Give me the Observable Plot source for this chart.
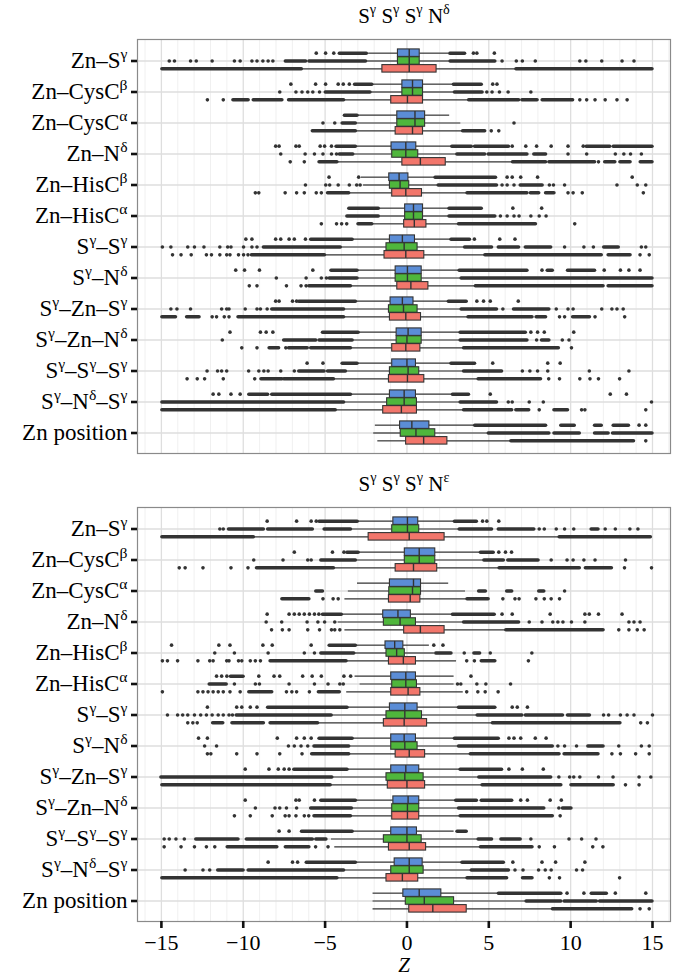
<!DOCTYPE html>
<html><head><meta charset="utf-8">
<script src="https://cdn.jsdelivr.net/npm/d3@7"></script>
<script src="https://cdn.jsdelivr.net/npm/@observablehq/plot@0.6"></script>
<style>body{margin:0;background:#fff}#chart svg{display:block}</style>
</head><body><div id="chart"></div>
<script>
// ---------- DATA ----------
const categories = ["Zn–S^γ","Zn–CysC^β","Zn–CysC^α","Zn–N^δ","Zn–HisC^β","Zn–HisC^α","S^γ–S^γ","S^γ–N^δ","S^γ–Zn–S^γ","S^γ–Zn–N^δ","S^γ–S^γ–S^γ","S^γ–N^δ–S^γ","Zn position"];
const panels = ["S^γ S^γ S^γ N^δ", "S^γ S^γ S^γ N^ε"];
const seriesKeys = ["blue", "green", "red"];
const seriesColors = ["#5b8dd6", "#4fb63c", "#f2766b"];
const xTicks = [-15, -10, -5, 0, 5, 10, 15];
const xLabel = "Z";

// box statistics per category: [lower whisker, q1, median, q3, upper whisker]
const topBlue = [[-2.34,-0.55,0.14,0.78,2.55],[-2.07,-0.28,0.34,0.98,2.82],[-2.96,-0.59,0.49,1.11,2.61],[-3.07,-0.94,-0.07,0.57,2.72],[-2.78,-1.08,-0.48,0.09,1.68],[-1.66,-0.11,0.40,0.98,2.55],[-3.27,-1.04,-0.28,0.49,2.67],[-2.96,-0.69,0.03,0.90,3.17],[-3.07,-1.00,-0.28,0.40,2.51],[-2.90,-0.63,0.07,0.90,3.23],[-2.96,-0.90,0.00,0.55,2.67],[-3.37,-1.04,-0.17,0.55,2.76],[-1.93,-0.42,0.30,1.37,4.12]];
const topGreen = [[-2.45,-0.55,0.14,0.78,2.62],[-2.18,-0.28,0.34,0.98,2.88],[-3.07,-0.59,0.49,1.11,3.29],[-3.23,-0.90,-0.07,0.69,3.03],[-2.65,-1.04,-0.42,0.14,1.89],[-1.66,-0.11,0.40,0.98,2.55],[-3.99,-1.25,-0.17,0.65,3.50],[-2.96,-0.69,0.03,0.90,3.29],[-3.79,-1.10,-0.21,0.65,3.29],[-3.27,-0.63,0.00,0.90,3.23],[-3.68,-1.04,0.07,0.75,3.44],[-3.79,-1.21,-0.17,0.61,3.23],[-2.03,-0.38,0.55,1.73,4.95]];
const topRed = [[-6.37,-1.50,0.14,1.81,6.64],[-3.79,-0.96,0.03,0.98,3.75],[-3.07,-0.69,0.34,0.98,3.38],[-4.20,-0.28,0.82,2.37,6.43],[-3.48,-0.90,-0.07,0.92,3.65],[-2.07,-0.17,0.45,1.19,3.13],[-4.96,-1.37,-0.07,1.06,4.74],[-3.37,-0.59,0.24,1.31,4.16],[-3.79,-1.04,-0.07,0.86,3.71],[-3.37,-0.90,-0.07,0.82,3.44],[-4.41,-1.10,0.03,1.06,4.33],[-4.30,-1.45,-0.34,0.61,3.44],[-1.78,-0.05,1.02,2.47,6.33]];
const botBlue = [[-2.96,-0.83,0.03,0.69,2.88],[-2.90,-0.13,0.75,1.73,4.47],[-3.02,-1.04,0.40,0.86,2.55],[-3.93,-1.45,-0.55,0.24,2.76],[-3.07,-1.31,-0.75,-0.22,1.37],[-3.17,-0.96,-0.07,0.55,2.88],[-3.58,-1.04,-0.13,0.65,3.13],[-3.27,-0.96,-0.17,0.55,2.88],[-3.58,-0.96,-0.07,0.75,3.23],[-3.07,-0.83,0.07,0.75,2.96],[-3.27,-0.96,0.00,0.61,2.88],[-3.07,-0.75,0.14,0.96,3.34],[-2.07,-0.22,0.75,2.10,5.57]];
const botGreen = [[-3.37,-0.90,0.03,0.75,3.17],[-3.07,-0.13,0.75,1.73,4.68],[-3.58,-1.08,0.34,0.86,3.58],[-4.20,-1.41,-0.42,0.55,3.44],[-3.17,-1.25,-0.63,-0.13,1.68],[-2.86,-0.90,-0.07,0.61,2.88],[-4.55,-1.25,-0.13,0.92,4.27],[-3.48,-0.96,-0.13,0.65,3.13],[-4.51,-1.25,-0.13,1.02,4.37],[-3.31,-0.90,0.03,0.75,3.13],[-4.61,-1.41,0.00,0.90,4.33],[-3.79,-0.96,0.14,1.02,3.91],[-2.07,-0.07,1.06,2.88,7.26]];
const botRed = [[-9.30,-2.34,0.14,2.30,9.28],[-4.41,-0.69,0.40,1.85,5.61],[-3.79,-1.10,0.20,0.82,3.65],[-3.79,-0.17,0.82,2.30,6.02],[-3.64,-1.10,-0.22,0.55,3.03],[-3.68,-0.96,0.07,0.82,3.44],[-5.38,-1.41,-0.17,1.23,5.20],[-3.48,-0.69,0.14,1.11,3.85],[-4.61,-1.17,0.00,1.11,4.57],[-3.37,-0.90,0.03,0.75,3.23],[-4.41,-1.10,0.14,1.17,4.47],[-4.20,-1.25,-0.28,0.69,3.65],[-2.07,0.14,1.58,3.65,8.87]];

// dense stretches of outliers: [from, to]
const topBlueRuns = [[[-4.1,-2.45],[2.65,3.55]],[[-3.17,-2.12],[2.87,4.57]],[[-3.79,-3.02]],[[-4.3,-3.12],[2.77,3.96],[4.16,6.23],[10.98,12.42],[12.63,15.0]],[[1.75,5.44]],[[-3.52,-1.72],[2.6,4.57]],[[-5.85,-3.32],[2.72,3.85]],[[-4.61,-3.02],[3.22,7.36],[8.6,8.91],[9.84,11.49]],[[-6.58,-3.12],[2.56,3.65]],[[-5.13,-2.95],[3.28,7.26]],[[-3.93,-3.02],[2.72,4.16]],[[-9.63,-8.48],[-8.23,-3.42],[2.81,3.79]],[[4.17,8.5],[9.43,10.25],[11.49,11.9],[12.63,13.56]]];
const topGreenRuns = [[[-7.4,-6.16],[-5.96,-2.5],[2.67,5.4]],[[-4.96,-2.23],[2.93,4.62]],[[-3.93,-3.12]],[[-4.1,-3.28],[3.08,4.78],[4.99,7.36],[7.78,8.5]],[[1.94,5.5],[6.95,8.29]],[[-3.64,-1.72],[2.6,5.4]],[[-8.74,-4.04],[3.55,5.2],[5.61,6.85],[7.26,8.81],[12.05,12.94]],[[-4.72,-3.02],[3.34,15.0]],[[-8.23,-3.84],[3.34,5.5],[6.54,8.7]],[[-7.5,-5.54],[-5.34,-3.32],[3.28,7.36],[8.25,8.7]],[[-6.58,-5.03],[-4.82,-3.73],[3.49,5.81]],[[-14.94,-3.84],[3.28,5.5]],[[5.0,8.7],[9.01,10.56],[11.49,12.32],[12.59,15.0]]];
const topRedRuns = [[[-14.94,-6.42],[6.69,15.0]],[[-10.6,-9.67],[-9.36,-7.61],[-7.2,-3.84],[3.8,6.85],[7.05,7.98],[8.29,10.15]],[[-5.75,-3.12],[3.43,4.78]],[[-5.34,-4.25],[6.48,8.5],[8.7,11.49],[12.11,12.73],[13.04,13.66],[14.28,15.0]],[[-4.82,-3.53],[3.7,7.36],[7.57,8.08],[8.5,9.01]],[[-2.96,-2.12],[3.18,7.88]],[[-9.47,-5.01],[4.79,11.9],[12.32,13.66]],[[-5.96,-3.42],[4.21,12.01],[12.32,15.0]],[[-14.94,-14.11],[-13.43,-12.67],[-10.29,-3.84],[3.76,7.67],[7.92,8.5],[10.15,11.18]],[[-8.39,-7.81],[-7.2,-6.06],[-5.85,-3.42],[3.49,9.28]],[[-8.89,-7.61],[-7.5,-4.46],[4.38,8.19]],[[-14.94,-4.35],[3.49,6.43],[6.68,7.47],[9.01,9.84]],[[6.38,13.87]]];
const botBlueRuns = [[[-5.34,-3.01],[2.93,4.27]],[[-3.64,-2.95],[4.52,5.3]],[],[[-5.13,-3.98],[2.81,5.36]],[[-4.72,-3.12]],[[-10.75,-9.98]],[[-8.48,-3.63],[3.18,5.4]],[[-5.34,-3.32],[2.93,5.61]],[[-6.88,-3.63],[3.28,5.81]],[[-5.23,-3.12],[3.01,4.27],[4.57,6.43]],[[-6.41,-3.32],[3.09,3.65]],[[-6.12,-3.12],[3.39,5.92]],[[5.62,9.43],[11.29,12.21]]];
const botGreenRuns = [[[-10.87,-8.74],[-8.48,-5.75],[-5.03,-3.42],[3.22,5.2],[5.61,7.78],[11.28,11.7]],[[-5.23,-3.12],[4.73,5.92],[6.19,8.04]],[[-5.54,-5.13],[4.41,4.82],[6.12,6.43],[8.08,8.39]],[[3.49,6.85]],[[-5.23,-3.22],[1.79,2.72],[4.12,4.47]],[[-12.05,-11.01]],[[-10.4,-4.6],[4.32,7.05],[7.26,9.53],[9.84,11.18]],[[-5.65,-3.53],[3.18,8.91],[11.08,12.01]],[[-15.0,-4.56],[4.42,8.81]],[[-5.85,-3.36],[3.18,8.39],[9.53,10.05]],[[-12.87,-10.29],[-9.78,-5.75],[-5.54,-4.92],[4.38,5.2],[5.77,6.95]],[[-11.53,-9.98],[-9.67,-3.84],[3.96,6.23]],[[7.31,9.43],[9.63,11.6],[11.8,15.0]]];
const botRedRuns = [[[-14.94,-9.35],[9.33,14.9]],[[-9.16,-4.46],[5.66,10.56],[10.93,12.52]],[[-7.61,-5.96],[3.7,4.99]],[[6.07,12.01]],[[-8.33,-3.69],[4.57,5.4]],[[-9.63,-8.23],[-5.38,-4.1]],[[-11.84,-11.22],[-10.66,-8.74],[-8.33,-5.43],[5.25,13.04]],[[-5.79,-3.53],[3.9,9.32],[9.63,11.7]],[[-14.94,-4.66],[4.62,9.43],[10.05,12.63]],[[-5.65,-3.42],[3.28,8.91]],[[-10.95,-7.92],[-7.4,-5.96],[4.52,7.67]],[[-14.94,-4.25],[3.7,6.12],[7.09,7.67]],[[8.92,13.76]]];

// isolated outliers
const topBlueDots = [[-5.54,-4.97,-4.47,4.06,4.27,5.34],[-7.09,-5.58,-4.97,-4.2,-3.89,-3.52,5.24,5.5],[],[-8.02,-7.81,-6.78,-6.58,-5.3,-5.03,-4.61,6.43,7.26,7.92,8.81,9.84,10.77],[-4.76,-2.95,6.12,6.43,6.95,7.98,13.76],[6.47,8.23],[-9.84,-9.47,-8.02,-7.71,-7.2,-6.88,-6.2,4.12,5.67,6.6],[-10.46,-9.92,-9.01,-5.75,8.25,12.05,13.04,13.56,14.24],[-8.02,-7.81,-6.99,-6.74,4.27,4.68,5.09,6.8],[-10.81,-8.95,-8.6,-8.19,7.57,7.98,8.39,10.19],[-6.1,-5.13,5.24,8.6,9.36],[-11.84,-11.49,-10.75,-10.19,5.09,12.42,13.41],[14.18,14.59]];
const topGreenDots = [[-14.52,-14.2,-13.22,-12.87,-11.9,-10.54,-10.19,-9.47,-9.16,-8.8,-8.48,-8.19,5.81,6.68,7.05,7.84,10.56,10.93,11.9,13.14,13.87],[-7.77,-6.78,-6.41,-6.06,-5.75,-5.34,4.88,5.2,5.65,6.18,7.57],[-5.13,-4.41,6.54],[-7.71,-6.22,-5.65,-5.13,-4.61,-4.3,9.84,10.98,12.73,13.25,13.66,14.32],[-6.2,-4.96,-4.72,-4.2,-3.52,-3.07,-2.86,5.81,6.12,6.54,8.7,8.95,9.63,12.83,14.07,14.59],[5.71,6.12,6.54,6.85,7.57,8.08,8.5],[-14.94,-14.42,-13.39,-12.98,-12.4,-11.43,-10.95,-10.75,-9.98,-9.47,-9.16,9.63,10.81,11.39,14.32,14.59],[-7.98,-6.16,-5.23,-4.92],[-14.42,-14.05,-13.22,-11.32,-11.01,-10.87,-9.88,-9.16,-8.95,-8.54,5.86,9.12,9.84,10.15,11.9,12.52,12.83,13.21],[-11.28,7.92,9.49,9.9],[-12.21,-11.57,-11.32,-11.01,-9.67,-9.05,-8.74,-8.48,-7.71,-6.88,7.05,7.51,7.98,8.6,11.14,13.56],[6.19,6.43,7.47,8.33,14.94],[]];
const topRedDots = [[],[-12.19,-11.22,10.56,10.98,11.49,12.11,12.83,13.45],[5.15,5.61],[-7.13,-6.27,11.7],[-9.26,-9.05,-7.44,-6.74,-6.27,-5.54,-5.23,9.84,10.15,10.71,14.44],[-5.23,-4.3,-3.99,-3.68,10.25],[-14.32,-13.8,-13.18,-12.25,-11.94,-11.43,-11.01,-10.81,-10.29,-9.98,-9.71,14.24,14.8],[-9.63,-9.16,-7.36,-6.47,-6.16],[-11.9,-11.63,-11.16,-10.87,9.32,9.63,11.49,13.3],[-10.09,-9.16,-7.4,10.05],[-13.43,-12.81,-12.36,-11.22,-9.3,8.66,9.32,10.56,11.18,11.7,12.99],[8.08,10.67,10.87,14.59],[14.59]];
const botBlueDots = [[-8.54,-6.74,-5.85,-5.54,4.62,4.88,5.61],[-6.88,-4.55,-3.85,5.61,6.02,6.39],[],[-8.54,-7.2,-6.88,-6.58,-6.27,-5.96,-5.65,-5.38,5.81,6.43,8.75,10.87,11.14,11.7,13.14],[-14.38,-11.49,-10.81,-8.8,-8.23,-5.85,1.64,2.2],[-11.63,-11.32,-11.0,-9.05,-8.12,-7.77,-6.37,-5.79,-5.23,-3.85,-3.44,3.91],[-12.19,-10.4,-10.09,-9.57,-9.16,6.43,6.74,7.36],[-12.73,-12.19,-7.92,-6.74,-6.27,-5.85,6.23,6.54,6.95,7.84,8.5],[-9.88,-8.43,-7.86,-7.5,-7.2,6.23,7.05,8.33],[-9.88,-6.78,-6.58,-5.65,6.95,7.36,8.75,9.43],[-7.81,-7.2],[-8.48,-6.99,-6.68,6.47,8.25,9.08,10.87],[9.78,10.81,12.73,14.59]];
const botGreenDots = [[-11.43,-11.22,8.08,8.39,9.12,9.63,10.19,12.11,12.73,13.62,14.11],[-9.36,-7.57,-6.06,-5.85,8.81,9.78,10.15,10.81,11.49,13.35],[9.63],[-8.6,-7.65,-6.1,-5.44,-5.03,-4.41,7.47,8.25,8.91,9.22,9.53,10.05,10.87,13.56,13.87,14.24],[-11.74,-10.54,-8.48,-6.27,-5.65,3.5,5.09,7.63],[-10.54,-9.26,-9.01,-7.2,-5.65,-4.82,-4.1,-3.89,3.09,3.29,4.27,4.82,6.33],[-14.63,-14.01,-13.7,-13.39,-12.98,-12.6,-12.25,-11.9,-11.53,-11.22,-10.87,-10.66,12.01,12.32,13.04,13.45,13.87,15.0],[-12.36,-11.63,-7.24,-6.88,-6.47,-6.06,9.22,9.63,10.36,12.94,14.32,14.8],[9.28,9.94,10.19,10.56,11.7,12.59,14.18,14.9],[-9.26,-8.06,-7.77,-7.36,-6.74,9.28],[-14.83,-14.52,-14.11,-13.6,7.57,9.9,10.67,11.55],[-13.55,-12.46,-12.05,6.6,7.09,8.04,8.45,8.81,10.36,10.73],[]];
const botRedDots = [[],[-13.91,-13.55,-12.46,-10.75,-9.71,13.29,14.94],[-5.13,-4.51,-4.2,5.86,6.6,6.85,7.88,8.39,8.81,9.32],[-8.27,-7.61,-7.2,-6.06,-5.34,-4.61,-4.41,-4.1,12.94,13.56,14.07,14.49],[-14.94,-14.63,-14.01,-12.77,-12.05,-11.84,-11.01,-10.87,-10.29,-10.09,-9.57,-9.26,-8.95,3.65,4.12,7.42],[-14.94,-12.77,-12.46,-12.15,-11.84,-11.53,-11.22,-10.81,-10.19,-7.36,-7.03,-6.74,-5.96,3.65,4.33,4.78,5.57],[-13.39,-13.08,-12.81,14.28,14.69],[-12.19,-11.98,-10.4,-9.16,-7.77,-6.41,12.52,13.04,13.97,14.8],[13.35,14.18],[-10.54,-9.57,-8.23,-7.44,-7.2,-6.78,-6.27,-6.0,9.36],[-14.83,-13.8,-12.98,-12.25,-11.74,-5.58,-4.82,8.08,9.01,11.35,11.97],[8.7,9.32,12.99],[14.24,14.8]];

// ---------- TABLES ----------
const statSets = [[topBlue, topGreen, topRed], [botBlue, botGreen, botRed]];
const runSets = [[topBlueRuns, topGreenRuns, topRedRuns], [botBlueRuns, botGreenRuns, botRedRuns]];
const dotSets = [[topBlueDots, topGreenDots, topRedDots], [botBlueDots, botGreenDots, botRedDots]];
const stats = [], runs = [], outliers = [];
panels.forEach((panel, pi) => seriesKeys.forEach((s, si) => categories.forEach((cat, ci) => {
  const [lo, q1, med, q3, hi] = statSets[pi][si][ci];
  stats.push({panel, cat, si, lo, q1, med, q3, hi});
  runSets[pi][si][ci].forEach(([a, b]) => runs.push({panel, cat, si, a, b}));
  dotSets[pi][si][ci].forEach(x => outliers.push({panel, cat, si, x}));
})));

// ---------- LAYOUT ----------
const W = 673, H = 979, mt = 39, mb = 58, ml = 137, mr = 3, gap = 54;
const facetH = (H - mt - mb - gap) / 2;
const step = facetH / 13.2;           // one category
const sub = step * 0.25;              // one dodged box
const boxInset = (step - sub) / 2;
const ink = "#333333";
const fmt = d => d < 0 ? "\u2212" + (-d) : String(d);
const minorTicks = d3.range(-16, 17).filter(v => v % 5 !== 0);

const marks = [
  Plot.gridX(minorTicks, {stroke: "#ececec", strokeOpacity: 1, strokeWidth: 0.8}),
  Plot.gridX(xTicks, {stroke: "#dedede", strokeOpacity: 1, strokeWidth: 1.3}),
  Plot.gridY(categories, {stroke: "#dedede", strokeOpacity: 1, strokeWidth: 1.3})
];
seriesKeys.forEach((s, si) => {
  const dy = (si - 1) * sub;
  const st = stats.filter(d => d.si === si);
  const ru = runs.filter(d => d.si === si);
  const ou = outliers.filter(d => d.si === si);
  marks.push(
    Plot.ruleY(st, {y: "cat", fy: "panel", x1: "lo", x2: "q1", dy, stroke: ink, strokeWidth: 1.2}),
    Plot.ruleY(st, {y: "cat", fy: "panel", x1: "q3", x2: "hi", dy, stroke: ink, strokeWidth: 1.2}),
    Plot.ruleY(ru, {y: "cat", fy: "panel", x1: "a", x2: "b", dy, stroke: ink, strokeWidth: 3.5, strokeLinecap: "round"}),
    Plot.dot(ou, {y: "cat", fy: "panel", x: "x", dy, r: 1.8, fill: ink, stroke: null}),
    Plot.barX(st, {y: "cat", fy: "panel", x1: "q1", x2: "q3", dy, insetTop: boxInset, insetBottom: boxInset, fill: seriesColors[si], stroke: ink, strokeWidth: 1.1}),
    Plot.tickX(st, {y: "cat", fy: "panel", x: "med", dy, insetTop: boxInset, insetBottom: boxInset, stroke: ink, strokeWidth: 1.4})
  );
});
marks.push(
  Plot.frame({stroke: "#8a8a8a", strokeWidth: 1.2}),
  Plot.axisY({tickSize: 6, tickPadding: 4, strokeWidth: 2.6, stroke: "#111", fill: "#000", fontSize: 23, label: null}),
  Plot.axisX(xTicks, {facetAnchor: "bottom", tickSize: 7, tickPadding: 6, strokeWidth: 2.6, stroke: "#111", fill: "#000", fontSize: 22, tickFormat: fmt, label: null}),
  Plot.text(panels.map(p => ({panel: p, title: p})), {fy: "panel", text: "title", frameAnchor: "top", lineAnchor: "middle", dy: -23, fontSize: 21, fill: "#000"}),
  Plot.text([{panel: panels[1], label: xLabel}], {fy: "panel", text: "label", frameAnchor: "bottom", lineAnchor: "middle", dy: 44, fontSize: 21, fontStyle: "italic", fill: "#000"})
);

const chart = Plot.plot({
  width: W, height: H,
  marginTop: mt, marginBottom: mb, marginLeft: ml, marginRight: mr,
  style: {fontFamily: "'Liberation Serif', 'DejaVu Serif', serif", fontSize: "22px", background: "#fff", color: "#000"},
  x: {domain: [-16.46, 16.1], label: null},
  y: {domain: categories, paddingInner: 0, paddingOuter: 0.1, label: null},
  fy: {domain: panels, paddingInner: gap / (facetH + gap), paddingOuter: 0, axis: null, label: null},
  marks
});

// superscripts: "^x" marks x as a superscript
const NS = "http://www.w3.org/2000/svg";
chart.querySelectorAll("text").forEach(t => {
  const targets = t.querySelector("tspan") ? Array.from(t.querySelectorAll("tspan")) : [t];
  targets.forEach(el => {
    const s = el.textContent;
    if (!s.includes("^")) return;
    el.textContent = "";
    const parts = s.split(/\^(.)/);
    let raised = false;
    parts.forEach((p, i) => {
      if (!p) return;
      const ts = document.createElementNS(NS, "tspan");
      ts.textContent = p;
      if (i % 2 === 1) {
        ts.setAttribute("font-size", "68%");
        ts.setAttribute("dy", "-0.62em");
        raised = true;
      } else if (raised) {
        ts.setAttribute("dy", "0.42em");
        raised = false;
      }
      el.appendChild(ts);
    });
  });
});
document.getElementById("chart").appendChild(chart);
</script>
</body></html>
